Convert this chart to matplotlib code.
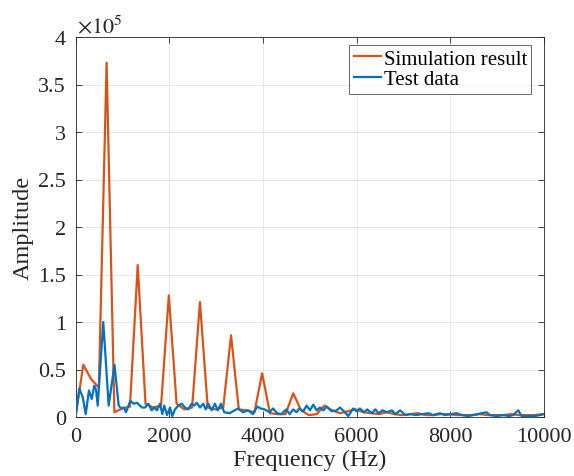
import numpy as np
import matplotlib
matplotlib.use("Agg")
import matplotlib.pyplot as plt
from matplotlib.ticker import FuncFormatter

# ---- data (amplitude in units of 1e5) ----
sim_step_hz = 166.0
amp_sim = [0.00, 0.55, 0.40, 0.31, 3.73, 0.05, 0.09, 0.11, 1.60, 0.14,
           0.10, 0.12, 1.28, 0.14, 0.08, 0.10, 1.21, 0.10, 0.08, 0.10,
           0.86, 0.08, 0.07, 0.05, 0.46, 0.04, 0.03, 0.03, 0.25, 0.07,
           0.02, 0.03, 0.12, 0.07, 0.04, 0.06, 0.08, 0.05, 0.04, 0.03,
           0.05, 0.03, 0.02, 0.03, 0.04, 0.02, 0.02, 0.03, 0.03, 0.02,
           0.02, 0.02, 0.03, 0.02, 0.02, 0.02, 0.03, 0.02, 0.02, 0.02, 0.03]
freq_sim = np.arange(len(amp_sim)) * sim_step_hz

freq_test = [0, 81, 154, 218, 288, 346, 401, 437, 474, 593, 708, 832, 922, 977,
             1029, 1078, 1169, 1242, 1312, 1419, 1483, 1554, 1626, 1682, 1739,
             1803, 1852, 1895, 1953, 2017, 2066, 2123, 2194, 2266, 2336, 2407,
             2480, 2535, 2586, 2657, 2727, 2779, 2834, 2906, 2977, 3035, 3105,
             3175, 3291, 3397, 3468, 3574, 3681, 3788, 3880, 3952, 4037, 4144,
             4215, 4306, 4392, 4498, 4571, 4648, 4720, 4776, 4861, 4934, 5004,
             5075, 5147, 5218, 5288, 5361, 5467, 5574, 5644, 5751, 5822, 5928,
             6001, 6071, 6157, 6227, 6327, 6398, 6470, 6556, 6647, 6754, 6824,
             6931, 7038, 7145, 7266, 7394, 7537, 7629, 7779, 7886, 8135, 8248,
             8382, 8775, 8846, 8988, 9129, 9251, 9343, 9450, 9522, 9663, 9806,
             9912, 10000]
amp_test = [0.00, 0.30, 0.21, 0.03, 0.28, 0.19, 0.33, 0.29, 0.12, 1.00, 0.12,
            0.55, 0.12, 0.09, 0.10, 0.05, 0.17, 0.14, 0.15, 0.10, 0.10, 0.14,
            0.07, 0.10, 0.07, 0.14, 0.03, 0.12, 0.02, 0.10, 0.01, 0.08, 0.12,
            0.14, 0.10, 0.08, 0.14, 0.12, 0.15, 0.10, 0.14, 0.08, 0.14, 0.07,
            0.14, 0.07, 0.14, 0.05, 0.04, 0.07, 0.09, 0.05, 0.07, 0.03, 0.11,
            0.09, 0.08, 0.05, 0.09, 0.04, 0.03, 0.08, 0.03, 0.08, 0.05, 0.09,
            0.06, 0.12, 0.07, 0.13, 0.07, 0.10, 0.07, 0.11, 0.06, 0.07, 0.10,
            0.05, 0.01, 0.09, 0.06, 0.09, 0.05, 0.08, 0.04, 0.08, 0.04, 0.07,
            0.05, 0.07, 0.03, 0.07, 0.02, 0.03, 0.02, 0.03, 0.04, 0.02, 0.04,
            0.02, 0.04, 0.02, 0.01, 0.05, 0.02, 0.01, 0.02, 0.01, 0.02, 0.07,
            0.01, 0.01, 0.01, 0.02, 0.03]

xticks = [0, 2000, 4000, 6000, 8000, 10000]
yticks = [0, 0.5, 1, 1.5, 2, 2.5, 3, 3.5, 4]
series_labels = ["Simulation result", "Test data"]
xlabel = "Frequency (Hz)"
ylabel = "Amplitude"

# ---- style ----
plt.rcParams['font.family'] = ['Liberation Serif', 'DejaVu Serif']
plt.rcParams['mathtext.fontset'] = 'stix'

fig = plt.figure(figsize=(5.74, 4.77), dpi=100)
ax = fig.add_axes([75.5/574, 1-418/477, (544-75.5)/574, (418-38)/477])

c_sim = '#D95319'
c_test = '#0072BD'
ax.plot(freq_sim, amp_sim, color=c_sim, lw=1.6, label=series_labels[0], zorder=3)
ax.plot(freq_test, amp_test, color=c_test, lw=1.6, label=series_labels[1], zorder=4)

ax.set_xlim(0, 10000)
ax.set_ylim(0, 4)
ax.set_xticks(xticks)
ax.set_yticks(yticks)
ax.yaxis.set_major_formatter(FuncFormatter(lambda v, p: ('%g' % v)))
ax.grid(True, color='#e3e3e3', lw=0.6)
ax.set_axisbelow(True)
ax.tick_params(direction='in', length=4, width=0.6, colors='#262626',
               labelsize=16, top=True, right=True)
ax.tick_params(axis='x', pad=7)
ax.tick_params(axis='y', pad=7)
for s in ax.spines.values():
    s.set_color('#262626')
    s.set_linewidth(0.6)

ax.set_xlabel(xlabel, fontsize=17.5, color='#262626', labelpad=2)
ax.set_ylabel(ylabel, fontsize=17.5, color='#262626', labelpad=3)
ax.text(0.003, 1.0, r'$\times 10^{5}$', transform=ax.transAxes, fontsize=16,
        ha='left', va='bottom', color='#262626')

leg = ax.legend(loc='upper right', bbox_to_anchor=(0.982, 0.99), fontsize=15,
                frameon=True, fancybox=False, handlelength=1.3,
                handletextpad=0.15, borderpad=0.2, labelspacing=0.05,
                borderaxespad=0.2)
leg.get_frame().set_edgecolor('#262626')
leg.get_frame().set_linewidth(0.6)

fig.savefig('out.png', dpi=100)
